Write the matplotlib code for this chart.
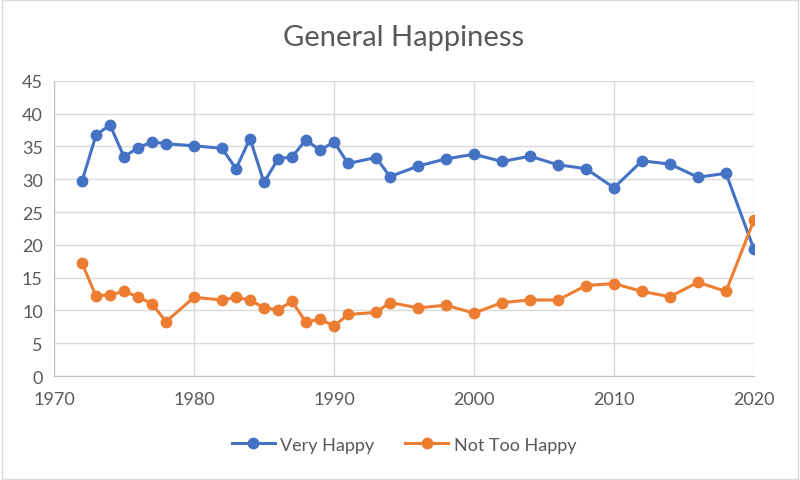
import matplotlib
matplotlib.use("Agg")
import matplotlib.pyplot as plt
from matplotlib.patches import Rectangle

plt.rcParams['font.family'] = ['Lato', 'DejaVu Sans']

years = [1972, 1973, 1974, 1975, 1976, 1977, 1978, 1980, 1982, 1983, 1984,
         1985, 1986, 1987, 1988, 1989, 1990, 1991, 1993, 1994, 1996, 1998,
         2000, 2002, 2004, 2006, 2008, 2010, 2012, 2014, 2016, 2018, 2020]
very_happy = [29.7, 36.7, 38.3, 33.4, 34.8, 35.7, 35.4, 35.1, 34.7, 31.6, 36.2,
              29.5, 33.1, 33.4, 36.0, 34.4, 35.7, 32.4, 33.3, 30.4, 32.0, 33.1,
              33.8, 32.7, 33.5, 32.2, 31.6, 28.7, 32.8, 32.3, 30.3, 30.9, 19.3]
not_too_happy = [17.2, 12.2, 12.4, 12.9, 12.1, 11.0, 8.3, 12.0, 11.6, 12.0, 11.6,
                 10.4, 10.1, 11.4, 8.2, 8.7, 7.6, 9.4, 9.7, 11.2, 10.4, 10.8,
                 9.6, 11.2, 11.6, 11.6, 13.8, 14.1, 12.9, 12.1, 14.3, 12.9, 23.8]

blue = '#4472C4'
orange = '#ED7D31'
txt = '#595959'

fig = plt.figure(figsize=(8, 4.81), dpi=100)
ax = fig.add_axes([0.0675, 0.216, 0.875, 0.614])

ax.plot(years, very_happy, color=blue, lw=2.2, marker='o', ms=7.5, label='Very Happy')
ax.plot(years, not_too_happy, color=orange, lw=2.2, marker='o', ms=7.5, label='Not Too Happy')

ax.set_xlim(1970, 2020)
ax.set_ylim(0, 45)
ax.set_xticks(range(1970, 2021, 10))
ax.set_yticks(range(0, 46, 5))
ax.grid(True, color='#d9d9d9', lw=1)
ax.set_axisbelow(True)
for s in ['top', 'right']:
    ax.spines[s].set_visible(False)
for s in ['left', 'bottom']:
    ax.spines[s].set_color('#bfbfbf')
ax.tick_params(length=0, labelsize=13, colors=txt)
ax.tick_params(axis='x', pad=11)
ax.tick_params(axis='y', pad=8)
ax.set_title('General Happiness', fontsize=21, color=txt, pad=26)

ax.legend(loc='upper center', bbox_to_anchor=(0.5, -0.15), ncol=2, frameon=False,
          fontsize=13, labelcolor=txt, handlelength=2.4, handletextpad=0.3,
          columnspacing=1.7)

fig.patches.append(Rectangle((0.002, 0.003), 0.996, 0.994, transform=fig.transFigure,
                             fill=False, edgecolor='#d9d9d9', lw=1))

fig.savefig('out.png', dpi=100)
